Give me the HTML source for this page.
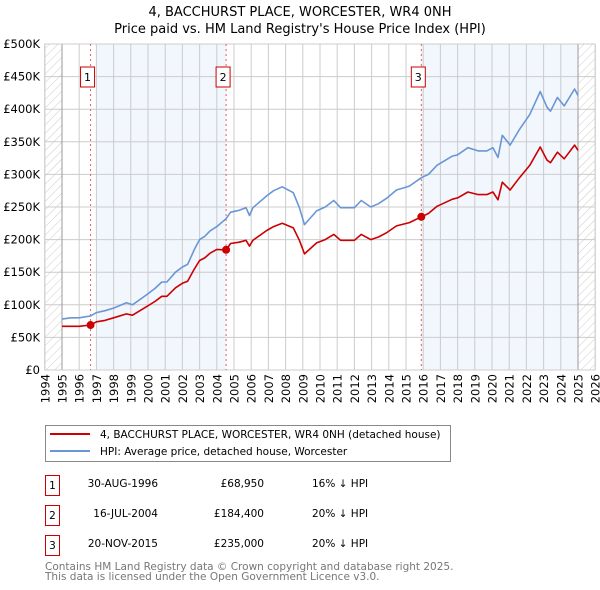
<!DOCTYPE html>
<html><head><meta charset="utf-8"><style>
body{margin:0;background:#fff;}
svg{display:block;font-family:"DejaVu Sans","Liberation Sans",sans-serif;}
</style></head><body>
<svg id="chart" width="600" height="590" viewBox="0 0 600 590" xmlns="http://www.w3.org/2000/svg">
<defs><pattern id="hatch" width="6" height="6" patternUnits="userSpaceOnUse" patternTransform="rotate(45)"><line x1="0" y1="0" x2="0" y2="6" stroke="#ccc" stroke-width="1"/></pattern></defs>
<text x="300" y="16" text-anchor="middle" font-size="13">4, BACCHURST PLACE, WORCESTER, WR4 0NH</text>
<text x="300" y="33" text-anchor="middle" font-size="13">Price paid vs. HM Land Registry's House Price Index (HPI)</text>
<g id="plot"></g>
<g>
<rect x="45.5" y="425.5" width="405" height="36" fill="#fff" stroke="#888"/>
<line x1="50" y1="434" x2="90" y2="434" stroke="#cc0000" stroke-width="2"/>
<text x="100" y="438" font-size="10.5">4, BACCHURST PLACE, WORCESTER, WR4 0NH (detached house)</text>
<line x1="50" y1="451" x2="90" y2="451" stroke="#6a96d6" stroke-width="2"/>
<text x="100" y="455" font-size="10.5">HPI: Average price, detached house, Worcester</text>
</g>
<g font-size="10.5">
<rect x="45.5" y="475.5" width="14" height="20" fill="#fff" stroke="#cc0000"/><text x="52.5" y="489" text-anchor="middle">1</text>
<text x="158" y="487" text-anchor="end">30-AUG-1996</text><text x="264" y="487" text-anchor="end">£68,950</text><text x="312" y="487">16% ↓ HPI</text>
<rect x="45.5" y="505.5" width="14" height="20" fill="#fff" stroke="#cc0000"/><text x="52.5" y="519" text-anchor="middle">2</text>
<text x="158" y="517" text-anchor="end">16-JUL-2004</text><text x="264" y="517" text-anchor="end">£184,400</text><text x="312" y="517">20% ↓ HPI</text>
<rect x="45.5" y="535.5" width="14" height="20" fill="#fff" stroke="#cc0000"/><text x="52.5" y="549" text-anchor="middle">3</text>
<text x="158" y="547" text-anchor="end">20-NOV-2015</text><text x="264" y="547" text-anchor="end">£235,000</text><text x="312" y="547">20% ↓ HPI</text>
</g>
<text x="45" y="570" font-size="10.5" fill="#777">Contains HM Land Registry data © Crown copyright and database right 2025.</text>
<text x="45" y="580" font-size="10.5" fill="#777">This data is licensed under the Open Government Licence v3.0.</text>
</svg>
<script>
const years=[1995,1995.5,1996,1996.66,1997,1997.5,1998,1998.75,1999.1,1999.9,2000.4,2000.8,2001.1,2001.6,2002,2002.3,2002.7,2003,2003.3,2003.6,2004,2004.54,2004.8,2005.3,2005.7,2005.9,2006.1,2006.9,2007.3,2007.8,2008.45,2008.8,2009.1,2009.8,2010.3,2010.8,2011.2,2012,2012.4,2012.95,2013.4,2013.9,2014.45,2015.2,2015.89,2016.3,2016.8,2017.7,2018.0,2018.6,2019.2,2019.7,2020.05,2020.35,2020.6,2021.05,2021.6,2022.2,2022.8,2023.2,2023.4,2023.8,2024.2,2024.8,2025];
const hpiValues=[78,80,80,83,88,91,95,103,100,115,125,135,135,150,158,162,185,200,205,213,220,232,242,245,249,237,249,267,275,281,272,249,223,244,250,260,249,249,260,250,255,264,276,282,295,300,314,328,330,341,336,336,341,326,360,345,369,392,427,403,397,418,405,431,421];
const priceValues=[67,67,67,69,74,76,80,86,84,97,105,113,113,126,133,136,155,168,172,179,185,184,194,196,199,190,199,214,220,225,218,199,178,195,200,208,199,199,208,200,204,211,221,226,235,240,251,262,264,273,269,269,273,261,288,276,295,314,342,322,318,334,324,345,337];
const saleYears=[1996.66,2004.54,2015.89];
const saleValues=[68.95,184.4,235];
const saleLabels=["1","2","3"];
const yTicks=[0,50,100,150,200,250,300,350,400,450,500];
const yTickLabels=["£0","£50K","£100K","£150K","£200K","£250K","£300K","£350K","£400K","£450K","£500K"];
const xTickYears=[1994,1995,1996,1997,1998,1999,2000,2001,2002,2003,2004,2005,2006,2007,2008,2009,2010,2011,2012,2013,2014,2015,2016,2017,2018,2019,2020,2021,2022,2023,2024,2025,2026];
const shadeRanges=[[1997,2004.54],[2015.89,2025]];

const NS="http://www.w3.org/2000/svg";
const L=44.8,R=595.2,T=44,B=370;
const xs=y=>L+(y-1994)/(2026-1994)*(R-L);
const ys=v=>B-v/500*(B-T);
const plot=document.getElementById('plot');
function mk(tag,attrs,parent){const e=document.createElementNS(NS,tag);for(const k in attrs)e.setAttribute(k,attrs[k]);(parent||plot).appendChild(e);return e;}
const bg=mk('rect',{x:L,y:T,width:R-L,height:B-T,fill:'#fff'});


shadeRanges.forEach(r=>{const s=mk('rect',{x:xs(r[0]),y:T,width:xs(r[1])-xs(r[0]),height:B-T,fill:'#f2f6fd'});

});
const h1=mk('rect',{x:L,y:T,width:xs(1995)-L,height:B-T,fill:'url(#hatch)'});


const h2=mk('rect',{x:xs(2025),y:T,width:R-xs(2025),height:B-T,fill:'url(#hatch)'});


xTickYears.forEach(y=>{mk('line',{x1:xs(y),y1:T,x2:xs(y),y2:B,stroke:'#ccc','stroke-width':1});
const t=mk('text',{x:0,y:0,'font-size':11.5,'text-anchor':'end',transform:`translate(${xs(y)+4.5},${B+4}) rotate(-90)`});t.textContent=y;

});
yTicks.forEach((v,i)=>{mk('line',{x1:L,y1:ys(v),x2:R,y2:ys(v),stroke:'#ccc','stroke-width':1});
const t=mk('text',{x:40,y:ys(v)+4,'font-size':11.5,'text-anchor':'end'});t.textContent=yTickLabels[i];

});
mk('line',{x1:xs(1995),y1:T,x2:xs(1995),y2:B,stroke:'#999','stroke-width':1});
mk('line',{x1:xs(2025),y1:T,x2:xs(2025),y2:B,stroke:'#999','stroke-width':1});
mk('rect',{x:L,y:T,width:R-L,height:B-T,fill:'none',stroke:'#ccc'});
saleYears.forEach((y,i)=>{mk('line',{x1:xs(y),y1:T,x2:xs(y),y2:B,stroke:'#e06060','stroke-width':1,'stroke-dasharray':'2,3'});
const b=mk('rect',{x:xs(y)-10,y:67,width:14,height:20,fill:'#fff',stroke:'#cc0000'});


const t=mk('text',{x:xs(y)-3,y:81,'font-size':11,'text-anchor':'middle'});t.textContent=saleLabels[i];});
function line(vals,color,name){const d=years.map((y,i)=>(i?'L':'M')+xs(y).toFixed(1)+','+ys(vals[i]).toFixed(1)).join('');
const p=mk('path',{d:d,fill:'none',stroke:color,'stroke-width':1.6,'stroke-linejoin':'round'});

}
line(hpiValues,'#6a96d6','hpi-line');
line(priceValues,'#cc0000','price-paid-line');
saleYears.forEach((y,i)=>{const c=mk('circle',{cx:xs(y),cy:ys(saleValues[i]),r:4,fill:'#cc0000'});

});
</script>
</body></html>
